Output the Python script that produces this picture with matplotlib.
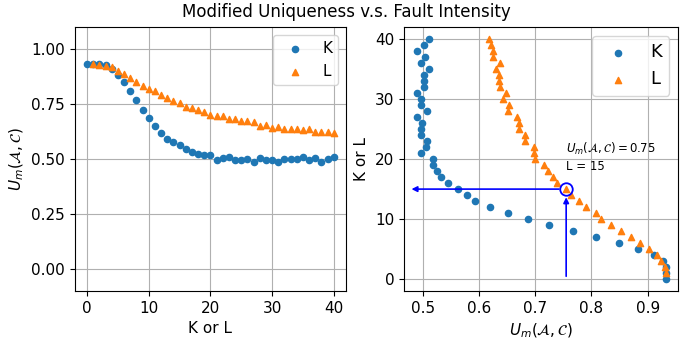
import numpy as np
import matplotlib.pyplot as plt

# fault intensity levels
k_levels = list(range(0, 41))
l_levels = list(range(1, 41))

# modified uniqueness for K faults
um_k = [0.932, 0.932, 0.932, 0.927, 0.911, 0.882, 0.849, 0.808, 0.767, 0.725,
        0.688, 0.651, 0.619, 0.593, 0.578, 0.563, 0.545, 0.533, 0.525, 0.519,
        0.519, 0.496, 0.505, 0.508, 0.496, 0.496, 0.499, 0.489, 0.507, 0.496,
        0.496, 0.489, 0.502, 0.502, 0.502, 0.511, 0.496, 0.504, 0.489, 0.502,
        0.511]

# modified uniqueness for L faults
um_l = [0.932, 0.930, 0.924, 0.917, 0.902, 0.887, 0.871, 0.853, 0.834, 0.817,
        0.808, 0.790, 0.778, 0.764, 0.755, 0.738, 0.731, 0.723, 0.716, 0.700,
        0.697, 0.697, 0.681, 0.682, 0.672, 0.672, 0.667, 0.651, 0.654, 0.643,
        0.648, 0.637, 0.635, 0.635, 0.631, 0.637, 0.625, 0.625, 0.622, 0.617]

# highlighted point
mark_um = 0.755
mark_l = 15

um_label = r'$U_m(\mathcal{A},\mathcal{C})$'

plt.rcParams['font.size'] = 11

fig = plt.figure(figsize=(6.92, 3.4), dpi=100)
ax1 = fig.add_axes([0.108, 0.144, 0.392, 0.776])
ax2 = fig.add_axes([0.584, 0.144, 0.396, 0.776])

fig.suptitle('Modified Uniqueness v.s. Fault Intensity', fontsize=12, y=0.99)

# left: uniqueness vs intensity
ax1.scatter(k_levels, um_k, s=20, marker='o', color='tab:blue', label='K', zorder=3)
ax1.scatter(l_levels, um_l, s=20, marker='^', color='tab:orange', label='L', zorder=3)
ax1.set_ylim(-0.1, 1.1)
ax1.set_yticks([0.0, 0.25, 0.5, 0.75, 1.0])
ax1.set_xlabel('K or L')
ax1.set_ylabel(um_label)
ax1.grid(True)
ax1.legend(loc='upper right', fontsize=11)

# right: intensity vs uniqueness
ax2.scatter(um_k, k_levels, s=20, marker='o', color='tab:blue', label='K', zorder=3)
ax2.scatter(um_l, l_levels, s=20, marker='^', color='tab:orange', label='L', zorder=3)
ax2.set_xlabel(um_label)
ax2.set_ylabel('K or L')
ax2.grid(True)
ax2.legend(loc='upper right', fontsize=13)

ax2.plot([mark_um], [mark_l], 'o', mfc='none', mec='blue', ms=9, mew=1.3, zorder=4)
ax2.annotate('', xy=(mark_um, mark_l - 0.9), xytext=(mark_um, 0),
             arrowprops=dict(arrowstyle='-|>', color='blue', lw=1.2, mutation_scale=8))
ax2.annotate('', xy=(0.475, mark_l), xytext=(mark_um - 0.008, mark_l),
             arrowprops=dict(arrowstyle='-|>', color='blue', lw=1.2, mutation_scale=8))
ax2.text(mark_um, 21, um_label[:-1] + r' = 0.75$', fontsize=8.5)
ax2.text(mark_um, 18.2, 'L = 15', fontsize=8.5)

fig.savefig('out.png', dpi=100)
